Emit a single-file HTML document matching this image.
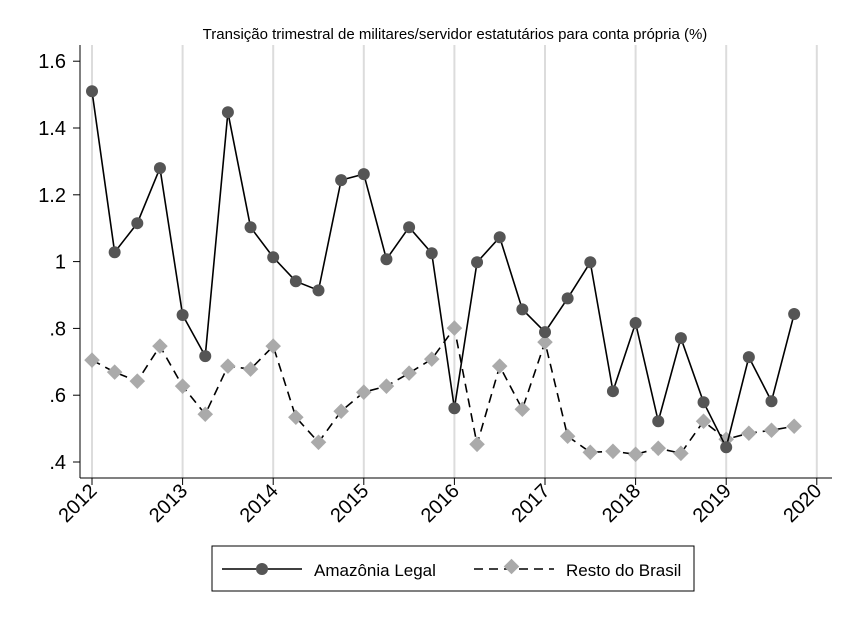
<!DOCTYPE html>
<html><head><meta charset="utf-8"><style>
body{margin:0;background:#fff;}
svg text{font-family:"Liberation Sans",Arial,sans-serif;}
</style></head><body>
<svg id="chart" width="852" height="620" viewBox="0 0 852 620" xmlns="http://www.w3.org/2000/svg">
<rect width="852" height="620" fill="#fff"/>
<text x="455" y="39" font-size="15" text-anchor="middle" fill="#000">Transição trimestral de militares/servidor estatutários para conta própria (%)</text>
<g id="grid"></g><g id="axes"></g><g id="series"></g>
<g>
<rect x="212" y="546" width="482" height="45" fill="#fff" stroke="#000" stroke-width="1"/>
<g>
<line x1="222" y1="569" x2="302" y2="569" stroke="#000" stroke-width="1.6"/>
<circle cx="262" cy="569" r="6" fill="#555"/>
<text x="314" y="576" font-size="17">Amazônia Legal</text></g>
<g>
<line x1="474" y1="569" x2="554" y2="569" stroke="#000" stroke-width="1.6" stroke-dasharray="9,6"/>
<rect x="506" y="561" width="11" height="11" transform="rotate(45 511.5 566.5)" fill="#aaa"/>
<text x="566" y="576" font-size="17">Resto do Brasil</text></g>
</g>
</svg>
<script>
const years=[2012,2013,2014,2015,2016,2017,2018,2019,2020];
const yTicks=[0.4,0.6,0.8,1.0,1.2,1.4,1.6];
const yTickLabels=[".4",".6",".8","1","1.2","1.4","1.6"];
const amazonia=[1.51,1.028,1.115,1.28,0.84,0.717,1.447,1.103,1.013,0.941,0.914,1.244,1.262,1.007,1.103,1.025,0.561,0.998,1.073,0.857,0.789,0.890,0.998,0.612,0.816,0.522,0.771,0.579,0.444,0.714,0.582,0.843];
const resto=[0.705,0.669,0.642,0.747,0.627,0.543,0.687,0.678,0.747,0.534,0.459,0.552,0.609,0.627,0.666,0.708,0.801,0.453,0.687,0.558,0.759,0.477,0.429,0.432,0.423,0.441,0.426,0.522,0.468,0.486,0.495,0.507];
const NS="http://www.w3.org/2000/svg";
const X=t=>92+(t-2012)*90.6;
const Y=v=>462-(v-0.4)*334;
function mk(tag,attrs,parent){const e=document.createElementNS(NS,tag);for(const k in attrs)e.setAttribute(k,attrs[k]);parent.appendChild(e);return e;}
const grid=document.getElementById('grid'),axes=document.getElementById('axes'),ser=document.getElementById('series');
years.forEach(yr=>{
  const g=mk('line',{x1:X(yr),x2:X(yr),y1:45,y2:478,stroke:'#dcdcdc','stroke-width':2},grid);
  
  
  mk('line',{x1:X(yr),x2:X(yr),y1:478,y2:485,stroke:'#000','stroke-width':1},axes);
  const t=mk('text',{x:X(yr)+6,y:492,'font-size':20,'text-anchor':'end',transform:`rotate(-45 ${X(yr)+6} 492)`},axes);
  t.textContent=yr;
  
  
});
mk('line',{x1:80,x2:80,y1:45,y2:478,stroke:'#000','stroke-width':1},axes);
mk('line',{x1:80,x2:832,y1:478,y2:478,stroke:'#000','stroke-width':1},axes);
yTicks.forEach((v,i)=>{
  mk('line',{x1:73,x2:80,y1:Y(v),y2:Y(v),stroke:'#000','stroke-width':1},axes);
  const t=mk('text',{x:66,y:Y(v)+7,'font-size':20,'text-anchor':'end'},axes);
  t.textContent=yTickLabels[i];
  
  
});
function tx(i){return X(2012+i*0.25);}
const pa=amazonia.map((v,i)=>tx(i)+','+Y(v)).join(' ');
const pr=resto.map((v,i)=>tx(i)+','+Y(v)).join(' ');
const lr=mk('polyline',{points:pr,fill:'none',stroke:'#000','stroke-width':1.6,'stroke-dasharray':'9,6'},ser);


resto.forEach((v,i)=>{
  const r=mk('rect',{x:tx(i)-5.5,y:Y(v)-5.5,width:11,height:11,fill:'#aaa',transform:`rotate(45 ${tx(i)} ${Y(v)})`},ser);
  
  
});
const la=mk('polyline',{points:pa,fill:'none',stroke:'#000','stroke-width':1.6},ser);


amazonia.forEach((v,i)=>{
  const c=mk('circle',{cx:tx(i),cy:Y(v),r:6,fill:'#555'},ser);
  
  
});
</script>
</body></html>
